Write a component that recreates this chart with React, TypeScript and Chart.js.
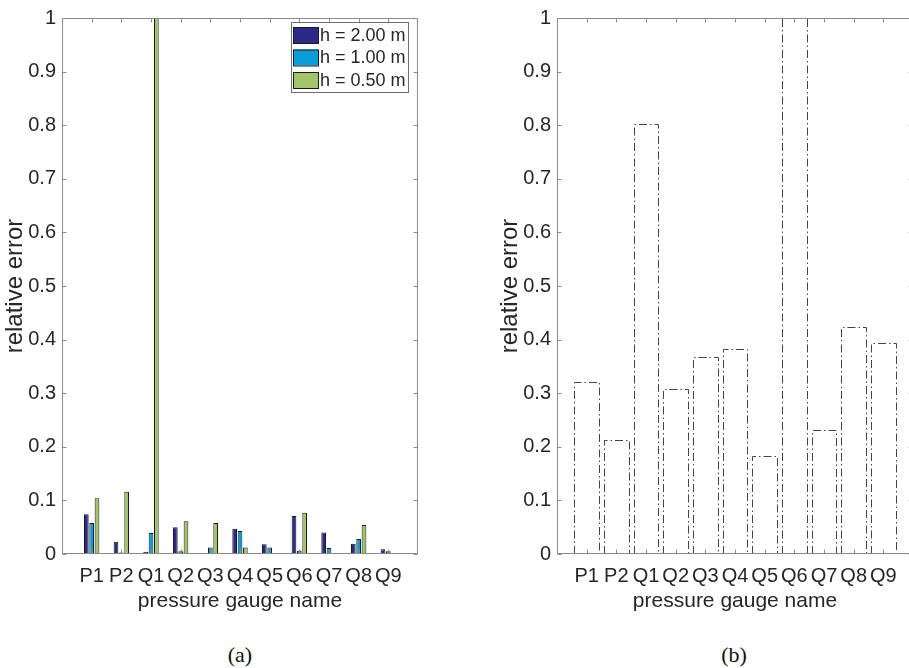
import React, { useEffect, useRef } from 'react';
import { Chart, registerables } from 'chart.js';

Chart.register(...registerables);

// ---- data ----
const gauges = ['P1', 'P2', 'Q1', 'Q2', 'Q3', 'Q4', 'Q5', 'Q6', 'Q7', 'Q8', 'Q9'];
const yTickLabels = ['0', '0.1', '0.2', '0.3', '0.4', '0.5', '0.6', '0.7', '0.8', '0.9', '1'];
const seriesNames = ['h = 2.00 m', 'h = 1.00 m', 'h = 0.50 m'];
const errH200 = [0.074, 0.023, 0.004, 0.050, 0.001, 0.047, 0.018, 0.071, 0.040, 0.019, 0.009];
const errH100 = [0.058, 0.003, 0.039, 0.005, 0.012, 0.043, 0.012, 0.006, 0.011, 0.028, 0.005];
const errH050 = [0.104, 0.116, 1.2, 0.061, 0.058, 0.012, 0, 0.077, 0, 0.054, 0];
const errB = [0.321, 0.212, 0.802, 0.307, 0.368, 0.382, 0.183, 1.2, 0.231, 0.423, 0.393];
const seriesColors = ['#2b2a86', '#0a9ed8', '#a4c46b'];

const FONT = '"Liberation Sans", Arial, Helvetica, sans-serif';
const TEXT = '#262626';
const AXIS = '#8a8a8a';

const CW = 440;
const CH = 625;

const boxPlugin = {
  id: 'matlabBox',
  afterDraw(chart: any) {
    const { ctx, chartArea: a, scales } = chart;
    ctx.save();
    ctx.strokeStyle = AXIS;
    ctx.lineWidth = 1;
    const L = Math.round(a.left) + 0.5;
    const R = Math.round(a.right) - 0.5;
    const T = Math.round(a.top) + 0.5;
    const B = Math.round(a.bottom) - 0.5;
    ctx.beginPath();
    ctx.rect(L, T, R - L, B - T);
    ctx.stroke();
    const tl = 4;
    ctx.beginPath();
    scales.y.ticks.forEach((t: any) => {
      const py = Math.round(scales.y.getPixelForValue(t.value)) + 0.5;
      ctx.moveTo(L, py); ctx.lineTo(L + tl, py);
      ctx.moveTo(R, py); ctx.lineTo(R - tl, py);
    });
    scales.x.ticks.forEach((t: any) => {
      const px = Math.round(scales.x.getPixelForValue(t.value)) + 0.5;
      ctx.moveTo(px, B); ctx.lineTo(px, B - tl);
      ctx.moveTo(px, T); ctx.lineTo(px, T + tl);
    });
    ctx.stroke();
    ctx.restore();
  },
};

const legendPlugin = {
  id: 'boxLegend',
  afterDraw(chart: any) {
    const { ctx } = chart;
    const x0 = 291, y0 = 22, w = 117, h = 70;
    ctx.save();
    ctx.fillStyle = '#ffffff';
    ctx.fillRect(x0, y0, w, h);
    ctx.strokeStyle = '#6e6e6e';
    ctx.lineWidth = 1;
    ctx.strokeRect(x0 + 0.5, y0 + 0.5, w, h);
    ctx.font = `18px ${FONT}`;
    ctx.textBaseline = 'middle';
    ctx.textAlign = 'left';
    chart.data.datasets.forEach((ds: any, i: number) => {
      const sy = y0 + 5 + i * 22.5;
      ctx.fillStyle = ds.backgroundColor;
      ctx.fillRect(x0 + 2, sy, 25, 16);
      ctx.strokeStyle = '#1a1a1a';
      ctx.strokeRect(x0 + 2.5, sy + 0.5, 25, 16);
      ctx.fillStyle = TEXT;
      ctx.fillText(ds.label, x0 + 29, sy + 9);
    });
    ctx.restore();
  },
};

const dashBarPlugin = {
  id: 'dashBars',
  afterDatasetsDraw(chart: any) {
    const { ctx, chartArea: a } = chart;
    const meta = chart.getDatasetMeta(0);
    ctx.save();
    ctx.beginPath();
    ctx.rect(a.left, a.top, a.right - a.left, a.bottom - a.top);
    ctx.clip();
    ctx.setLineDash([8, 3, 1.5, 3]);
    ctx.strokeStyle = '#444444';
    ctx.lineWidth = 1;
    meta.data.forEach((el: any) => {
      const { x, y, base, width } = el.getProps(['x', 'y', 'base', 'width'], true);
      const l = Math.round(x - width / 2) + 0.5;
      const r = Math.round(x + width / 2) + 0.5;
      const t = Math.round(y) + 0.5;
      ctx.beginPath();
      ctx.moveTo(l, base);
      ctx.lineTo(l, t);
      ctx.lineTo(r, t);
      ctx.lineTo(r, base);
      ctx.stroke();
    });
    ctx.restore();
  },
};

function makeScales() {
  return {
    x: {
      type: 'linear' as const,
      min: 0,
      max: 12,
      offset: false,
      afterBuildTicks: (axis: any) => {
        axis.ticks = gauges.map((_, i) => ({ value: i + 1 }));
      },
      afterFit: (axis: any) => {
        axis.height = CH - 554;
      },
      grid: { display: false, drawTicks: false, tickLength: 0 },
      border: { display: false },
      ticks: {
        autoSkip: false,
        maxRotation: 0,
        minRotation: 0,
        padding: 10,
        color: TEXT,
        font: { family: FONT, size: 20 },
        callback: (v: any) => gauges[Math.round(v) - 1] ?? '',
      },
      title: {
        display: true,
        text: 'pressure gauge name',
        color: TEXT,
        font: { family: FONT, size: 21 },
        padding: { top: 0, bottom: 11 },
      },
    },
    y: {
      type: 'linear' as const,
      min: 0,
      max: 1,
      afterFit: (axis: any) => {
        axis.width = 62;
      },
      grid: { display: false, drawTicks: false, tickLength: 0 },
      border: { display: false },
      ticks: {
        stepSize: 0.1,
        padding: 6,
        color: TEXT,
        font: { family: FONT, size: 20 },
        callback: (_v: any, i: number) => yTickLabels[i] ?? '',
      },
      title: {
        display: true,
        text: 'relative error',
        color: TEXT,
        font: { family: FONT, size: 24 },
        padding: { top: 1, bottom: 0 },
      },
    },
  };
}

const baseOptions = () => ({
  responsive: false,
  animation: false as const,
  events: [] as any[],
  layout: { padding: { left: 0, top: 12, right: CW - 418, bottom: 0 } },
  plugins: { legend: { display: false }, tooltip: { enabled: false } },
  scales: makeScales(),
});

export default function App() {
  const leftRef = useRef<HTMLCanvasElement>(null);
  const rightRef = useRef<HTMLCanvasElement>(null);

  useEffect(() => {
    const seriesValues = [errH200, errH100, errH050];
    const left = new Chart(leftRef.current!, {
      type: 'bar',
      data: {
        datasets: seriesValues.map((vals, k) => ({
          label: seriesNames[k],
          data: vals.map((v, i) => ({ x: i + 1, y: v })),
          backgroundColor: seriesColors[k],
          borderColor: '#1a1a1a',
          borderWidth: 1,
          categoryPercentage: 0.54,
          barPercentage: 0.88,
        })),
      },
      options: baseOptions() as any,
      plugins: [boxPlugin, legendPlugin],
    });

    const right = new Chart(rightRef.current!, {
      type: 'bar',
      data: {
        datasets: [
          {
            label: 'relative error',
            data: errB.map((v, i) => ({ x: i + 1, y: v })),
            backgroundColor: 'rgba(0,0,0,0)',
            borderWidth: 0,
            categoryPercentage: 1,
            barPercentage: 0.83,
          },
        ],
      },
      options: baseOptions() as any,
      plugins: [boxPlugin, dashBarPlugin],
    });

    return () => {
      left.destroy();
      right.destroy();
    };
  }, []);

  const capStyle: React.CSSProperties = {
    position: 'absolute',
    top: 642,
    width: 100,
    textAlign: 'center',
    font: '22px "Liberation Serif", "Times New Roman", serif',
    lineHeight: '26px',
    color: '#111',
  };

  return (
    <div
      style={{
        position: 'fixed',
        left: 0,
        top: 0,
        width: 909,
        height: 668,
        overflow: 'hidden',
        background: '#fff',
      }}
    >
      <canvas ref={leftRef} width={CW} height={CH} style={{ position: 'absolute', left: 0, top: 0 }} />
      <canvas ref={rightRef} width={CW} height={CH} style={{ position: 'absolute', left: 495, top: 0 }} />
      <div style={{ ...capStyle, left: 190 }}>(a)</div>
      <div style={{ ...capStyle, left: 684 }}>(b)</div>
    </div>
  );
}
